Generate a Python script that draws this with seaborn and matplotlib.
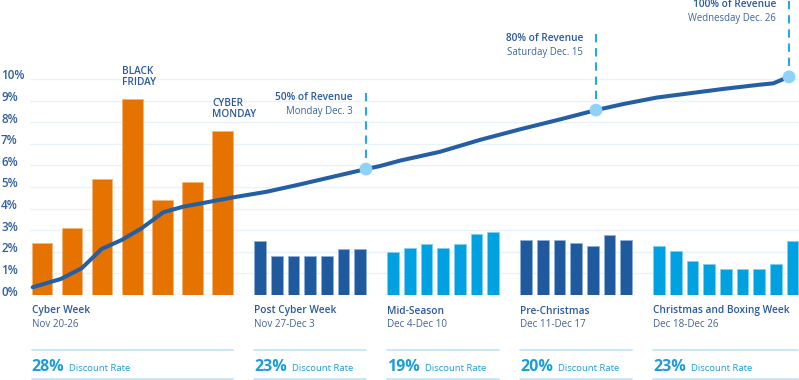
import numpy as np
import pandas as pd
import matplotlib
matplotlib.use("Agg")
import matplotlib.pyplot as plt
import matplotlib.transforms as mtransforms
import seaborn as sns

# ---------------- data ----------------
groups = ["Cyber Week", "Post Cyber Week", "Mid-Season", "Pre-Christmas",
          "Christmas and Boxing Week"]
group_dates = ["Nov 20-26", "Nov 27-Dec 3", "Dec 4-Dec 10", "Dec 11-Dec 17",
               "Dec 18-Dec 26"]
discount_rates = ["28%", "23%", "19%", "20%", "23%"]

cyber_week = [2.42, 3.12, 5.36, 9.07, 4.41, 5.22, 7.61]
post_cyber = [2.49, 1.82, 1.82, 1.82, 1.82, 2.14, 2.14]
mid_season = [1.98, 2.18, 2.38, 2.18, 2.38, 2.81, 2.90]
pre_christmas = [2.55, 2.55, 2.55, 2.41, 2.25, 2.78, 2.55]
christmas_boxing = [2.25, 2.02, 1.57, 1.45, 1.19, 1.19, 1.19, 1.45, 2.51]

# cumulative-revenue curve (day index, value on the % axis)
line_day = [-0.31, 0.62, 1.32, 1.98, 2.65, 3.31, 4.03, 4.69, 5.47, 6.28,
            7.39, 9.39, 11.40, 13.18, 13.6, 14.4, 16.81, 19.21, 20.81, 23.03,
            25.19, 26.83, 27.92, 29.84, 31.84, 33.85, 34.85, 35.8]
line_value = [0.36, 0.74, 1.24, 2.13, 2.55, 3.09, 3.83, 4.09, 4.29, 4.52,
              4.78, 5.12, 5.48, 5.83, 5.97, 6.22, 6.63, 7.18, 7.67, 8.13,
              8.56, 8.84, 9.14, 9.34, 9.54, 9.72, 9.80, 10.1]

milestone_day = [13.18, 25.19, 35.8]
milestone_value = [5.83, 8.56, 10.1]
milestone_title = ["50% of Revenue", "80% of Revenue", "100% of Revenue"]
milestone_date = ["Monday Dec. 3", "Saturday Dec. 15", "Wednesday Dec. 26"]

peak_index = [3, 6]
peak_labels = ["BLACK\nFRIDAY", "CYBER\nMONDAY"]

y_ticks = list(range(0, 11))
y_ticklabels = [f"{t}%" for t in y_ticks]

# ---------------- style ----------------
W, H = 799, 380
PX_PER_PCT = 21.6
BASE = 295
ORANGE = "#e67200"
DARK = "#1f5a9e"
LIGHT = "#00a1e0"
LINE = "#245ea3"
MARK = "#8fd2f8"
DASH = "#27a9e1"
TITLE_C = "#2b5a9c"
DATE_C = "#46658f"
DISC_C = "#1a9edb"
SEP_C = "#c6e5f6"

sns.set_style("white")
plt.rcParams["font.family"] = ["Open Sans", "DejaVu Sans"]

fig = plt.figure(figsize=(W / 100, H / 100), dpi=100)
ax = fig.add_axes([30 / W, (H - BASE) / H, (W - 30) / W, BASE / H])

# layout of bar positions (pixel-like x units)
orange_start, orange_pitch, orange_frac = 42.0, 30.1, 0.684
blue_start, blue_pitch, blue_frac = 260.2, 16.63, 0.70

series = [cyber_week, post_cyber, mid_season, pre_christmas, christmas_boxing]
colors = [ORANGE, DARK, LIGHT, DARK, LIGHT]
edges = ["#f3b57a", "#8fb0d8", "#7fd0f0", "#8fb0d8", "#7fd0f0"]

centers = []
slot = 0
for gi, vals in enumerate(series):
    n = len(vals)
    if gi == 0:
        c = orange_start + orange_pitch * np.arange(n)
    else:
        c = blue_start + blue_pitch * (slot + np.arange(n))
        slot += n + 1
    centers.append(c)

widths_px = [orange_pitch * orange_frac] + [blue_pitch * blue_frac] * 4

for gi, vals in enumerate(series):
    df = pd.DataFrame({"x": centers[gi], "y": vals})
    frac = orange_frac if gi == 0 else blue_frac
    sns.barplot(data=df, x="x", y="y", native_scale=True, width=frac,
                color=colors[gi], saturation=1, errorbar=None, ax=ax,
                edgecolor=edges[gi], linewidth=0.6, zorder=2)

all_centers = np.concatenate(centers)
day_idx = np.arange(len(all_centers))
anchor_days = np.concatenate([[-0.5], day_idx, [len(all_centers) - 0.5]])
anchor_x = np.concatenate([[all_centers[0] - orange_pitch / 2], all_centers,
                           [all_centers[-1] + blue_pitch / 2]])


def day_to_x(d):
    return np.interp(d, anchor_days, anchor_x)


line_x = day_to_x(np.array(line_day))
sns.lineplot(x=line_x, y=line_value, sort=False, color=LINE, lw=2.9, ax=ax,
             zorder=3, solid_capstyle="round", solid_joinstyle="round")

mx = day_to_x(np.array(milestone_day))
sns.scatterplot(x=mx, y=milestone_value, s=85, color=MARK, edgecolor="none",
                ax=ax, zorder=5)

for x, v, t1, t2 in zip(mx, milestone_value, milestone_title, milestone_date):
    ax.plot([x, x], [v + 11 / PX_PER_PCT, v + 76 / PX_PER_PCT], color=DASH,
            lw=1.5, ls=(0, (4, 2.8)), clip_on=False, zorder=4)
    ax.annotate(t1, xy=(x, v), xytext=(-13, 72), textcoords="offset pixels",
                ha="right", va="center", fontsize=7.3, fontweight="semibold",
                color=TITLE_C)
    ax.annotate(t2, xy=(x, v), xytext=(-13, 58), textcoords="offset pixels",
                ha="right", va="center", fontsize=6.9, color="#3a66a3")

for idx, lab in zip(peak_index, peak_labels):
    xl = centers[0][idx] - widths_px[0] / 2
    ax.annotate(lab, xy=(xl, cyber_week[idx]), xytext=(0, 11),
                textcoords="offset pixels", ha="left", va="bottom",
                fontsize=7.2, fontweight="semibold", color=TITLE_C,
                linespacing=0.95)

# axes styling
ax.set_xlim(30, W)
ax.set_ylim(0, BASE / PX_PER_PCT)
ax.set_yticks(y_ticks)
ax.set_yticklabels([])
ax.set_xticks([])
ax.set_xlabel("")
ax.set_ylabel("")
ax.yaxis.grid(True, color="#e8f3fb", lw=1)
ax.set_axisbelow(True)
for s in ax.spines.values():
    s.set_visible(False)
ax.tick_params(axis="y", length=0)

# y tick labels, left aligned at the figure edge, slightly above gridlines
ytrans = mtransforms.blended_transform_factory(fig.transFigure, ax.transData)
ytrans = ytrans + mtransforms.ScaledTranslation(0, 3 / 100, fig.dpi_scale_trans)
for t, lab in zip(y_ticks, y_ticklabels):
    ax.text(1 / W, t, lab, transform=ytrans, ha="left", va="center",
            fontsize=8.4, fontweight="semibold", color="#2e5f9f")

# bottom captions
trans = mtransforms.blended_transform_factory(ax.transData, fig.transFigure)
renderer = fig.canvas.get_renderer()


def fy(py):
    return 1 - py / H


for gi in range(len(groups)):
    left = centers[gi][0] - widths_px[gi] / 2
    right = centers[gi][-1] + widths_px[gi] / 2
    ax.text(left, fy(311), groups[gi], transform=trans, ha="left",
            va="center", fontsize=7.3, fontweight="semibold", color=TITLE_C)
    ax.text(left, fy(324.5), group_dates[gi], transform=trans, ha="left",
            va="center", fontsize=7.1, color=DATE_C)
    for py in (350, 378.5):
        ax.plot([left, right], [fy(py), fy(py)], transform=trans, color=SEP_C,
                lw=1.3, clip_on=False)
    t = ax.text(left, fy(371), discount_rates[gi], transform=trans, ha="left",
                va="baseline", fontsize=11.5, fontweight="bold", color=DISC_C)
    bb = t.get_window_extent(renderer)
    xnext = ax.transData.inverted().transform((bb.x1 + 4.5, 0))[0]
    ax.text(xnext, fy(371), "Discount Rate", transform=trans, ha="left",
            va="baseline", fontsize=6.8, color=DISC_C)

fig.savefig("out.png", dpi=100)
